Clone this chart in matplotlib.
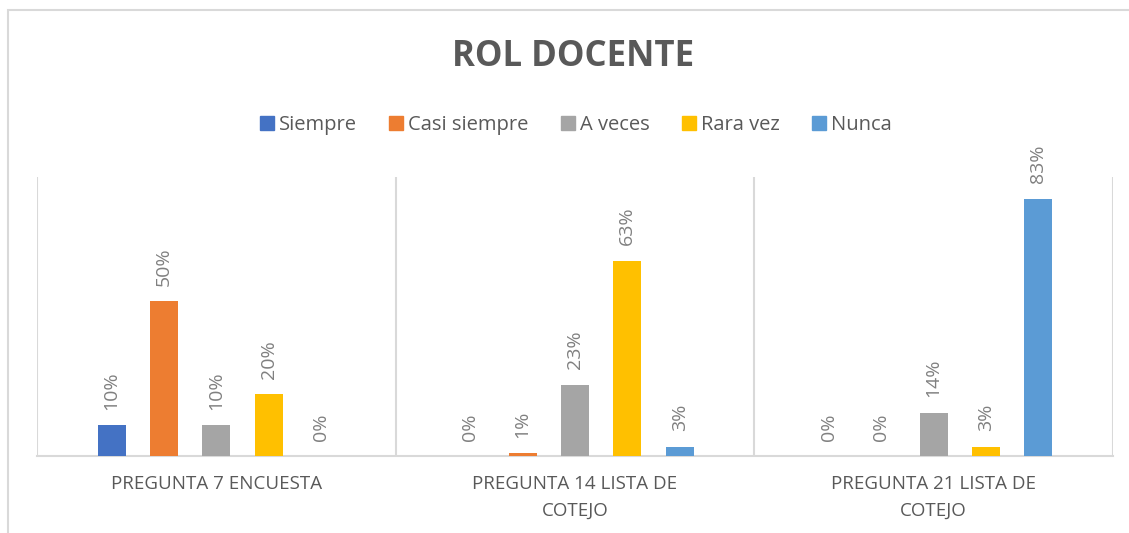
import numpy as np
import matplotlib.pyplot as plt
from matplotlib.patches import Rectangle, Patch

plt.rcParams['font.family'] = ['Open Sans', 'DejaVu Sans']

# data
categories = ['PREGUNTA 7 ENCUESTA', 'PREGUNTA 14 LISTA DE\nCOTEJO', 'PREGUNTA 21 LISTA DE\nCOTEJO']
series = ['Siempre', 'Casi siempre', 'A veces', 'Rara vez', 'Nunca']
values = [
    [0.10, 0.00, 0.00],   # Siempre
    [0.50, 0.01, 0.00],   # Casi siempre
    [0.10, 0.23, 0.14],   # A veces
    [0.20, 0.63, 0.03],   # Rara vez
    [0.00, 0.03, 0.83],   # Nunca
]
colors = ['#4472C4', '#ED7D31', '#A5A5A5', '#FFC000', '#5B9BD5']

fig = plt.figure(figsize=(11.29, 5.33), dpi=100)
ax = fig.add_axes([37/1129, 1 - 456/533, (1113-37)/1129, (456-177)/533])

# chart border
fig.patches.append(Rectangle((8/1129, -0.05), 1.2, 1 - 10/533 + 0.05, transform=fig.transFigure,
                             fill=False, edgecolor='#d9d9d9', lw=1.5))

x = np.arange(len(categories))
step = 0.146
w = 0.078
for i, (name, vals) in enumerate(zip(series, values)):
    pos = x + (i - 2) * step
    bars = ax.bar(pos, vals, width=w, color=colors[i], label=name, zorder=3)
    for b, v in zip(bars, vals):
        ax.annotate(f'{v:.0%}', (b.get_x() + b.get_width()/2, v), xytext=(0, 11),
                    textcoords='offset points', rotation=90, ha='center', va='bottom',
                    fontsize=14, color='#808080')

ax.set_xlim(-0.5, 2.5)
ax.set_ylim(0, 0.9)
for xv in [-0.5, 0.5, 1.5, 2.5]:
    ax.axvline(xv, color='#d9d9d9', lw=1.5, zorder=1)
for s in ['top', 'right', 'left']:
    ax.spines[s].set_visible(False)
ax.spines['bottom'].set_color('#d9d9d9')
ax.spines['bottom'].set_linewidth(1.5)
ax.set_yticks([])
ax.set_xticks(x)
ax.set_xticklabels(categories, fontsize=13.5, color='#595959', linespacing=1.6)
ax.tick_params(axis='x', length=0, pad=14)

fig.text(573/1129, 1 - 57/533, 'ROL DOCENTE', ha='center', va='center',
         fontsize=25, fontweight='bold', color='#595959')

handles = [Patch(color=c) for c in colors]
fig.legend(handles, series, loc='center', bbox_to_anchor=(576/1129, 1 - 125/533), ncol=5,
           frameon=False, fontsize=14.5, labelcolor='#595959', handlelength=0.7,
           handleheight=0.7, handletextpad=0.25, columnspacing=1.6)

fig.savefig('out.png', dpi=100)
